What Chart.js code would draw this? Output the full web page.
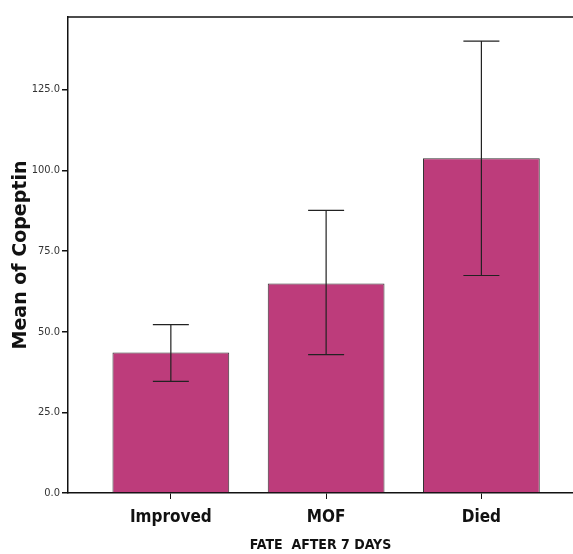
<!DOCTYPE html>
<html>
<head>
<meta charset="utf-8">
<script src="https://cdn.jsdelivr.net/npm/chart.js@4.4.1/dist/chart.umd.min.js"></script>
<style>
  html, body { margin: 0; padding: 0; background: #fff; }
  #wrap { width: 573px; height: 554px; }
</style>
</head>
<body>
<div id="wrap"><canvas id="copeptinChart"></canvas></div>
<script>
// data
const categories = ['Improved', 'MOF', 'Died'];
const means = [43.5, 64.9, 103.7];
const errUpper = [52.2, 87.6, 140.0];
const errLower = [34.6, 42.9, 67.4];
const yTicks = [0, 25, 50, 75, 100, 125];

const narrow = '"Liberation Sans Narrow", "DejaVu Sans Condensed", "Liberation Sans", sans-serif';

// error bars + top frame line
const errorBars = {
  id: 'errorBars',
  afterDatasetsDraw(chart) {
    const { ctx, chartArea, scales } = chart;
    ctx.save();
    ctx.strokeStyle = '#222';
    ctx.lineWidth = 1.2;
    means.forEach((m, i) => {
      const x = scales.x.getPixelForValue(i + 1);
      const yt = scales.y.getPixelForValue(errUpper[i]);
      const yb = scales.y.getPixelForValue(errLower[i]);
      ctx.beginPath();
      ctx.moveTo(x, yt); ctx.lineTo(x, yb);
      ctx.moveTo(x - 18, yt); ctx.lineTo(x + 18, yt);
      ctx.moveTo(x - 18, yb); ctx.lineTo(x + 18, yb);
      ctx.stroke();
    });
    ctx.strokeStyle = '#111';
    ctx.lineWidth = 1.5;
    ctx.beginPath();
    ctx.moveTo(chartArea.left, chartArea.top);
    ctx.lineTo(chartArea.right + 5, chartArea.top);
    ctx.stroke();
    ctx.restore();
  }
};

new Chart(document.getElementById('copeptinChart'), {
  type: 'bar',
  data: {
    datasets: [{
      data: means.map((v, i) => ({ x: i + 1, y: v })),
      backgroundColor: '#bd3c7b',
      borderColor: '#333',
      borderWidth: 1,
      barPercentage: 0.94,
      categoryPercentage: 0.8
    }]
  },
  options: {
    responsive: true,
    maintainAspectRatio: false,
    animation: false,
    layout: { padding: { top: 17, right: 0, left: 0, bottom: 0 } },
    plugins: { legend: { display: false }, tooltip: { enabled: false } },
    scales: {
      x: {
        type: 'linear',
        offset: false,
        min: 0.3376,
        max: 3.59,
        afterBuildTicks: (s) => { s.ticks = categories.map((c, i) => ({ value: i + 1 })); },
        afterFit: (s) => { s.height = 61; },
        ticks: {
          callback: (v) => categories[v - 1],
          color: '#111',
          font: { family: narrow, size: 17, weight: 'bold' },
          padding: 8,
          maxRotation: 0
        },
        grid: { drawOnChartArea: false, offset: false, tickLength: 6, color: '#111' },
        border: { color: '#111', width: 1.5 },
        title: {
          display: true,
          text: 'FATE  AFTER 7 DAYS',
          color: '#111',
          font: { family: narrow, size: 14, weight: 'bold' },
          padding: { top: 0, bottom: 0 }
        }
      },
      y: {
        min: 0,
        max: 147.5,
        afterBuildTicks: (s) => { s.ticks = yTicks.map(v => ({ value: v })); },
        afterFit: (s) => { s.width = 68; },
        ticks: {
          callback: (v) => v.toFixed(1),
          color: '#333',
          font: { family: narrow, size: 11 },
          padding: 2
        },
        grid: { drawOnChartArea: false, tickLength: 6, color: '#111', lineWidth: 1.5 },
        border: { color: '#111', width: 1.5 },
        title: {
          display: true,
          text: 'Mean of Copeptin',
          color: '#111',
          font: { family: '"DejaVu Sans", sans-serif', size: 19, weight: 'bold' },
          padding: { top: 10, bottom: 0 }
        }
      }
    }
  },
  plugins: [errorBars]
});
</script>
</body>
</html>
